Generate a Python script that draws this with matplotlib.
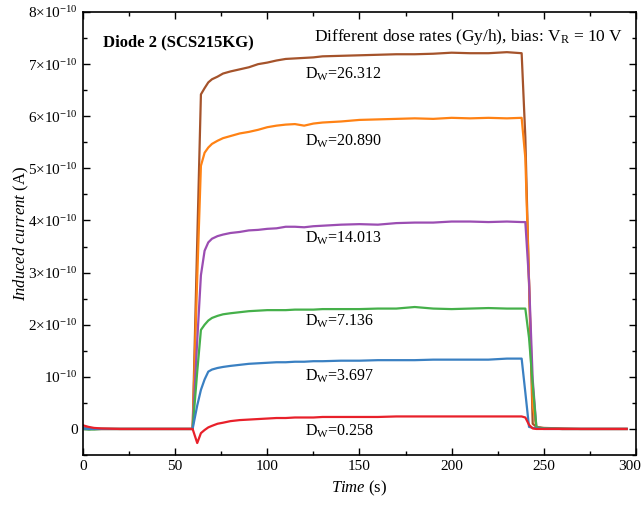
import matplotlib
matplotlib.use('Agg')
import matplotlib.pyplot as plt
import matplotlib.transforms as mtransforms
import numpy as np

plt.rcParams['font.family'] = ['Liberation Serif', 'DejaVu Serif']
plt.rcParams['mathtext.fontset'] = 'custom'
plt.rcParams['mathtext.rm'] = 'Liberation Serif'
plt.rcParams['mathtext.it'] = 'Liberation Serif:italic'
plt.rcParams['mathtext.bf'] = 'Liberation Serif:bold'

# time (s)
t = [0, 3, 6, 10, 20, 30, 40, 50, 59.5, 62, 64, 66, 68, 70, 73, 76, 80, 85, 90, 95,
     100, 105, 110, 115, 120, 125, 130, 140, 150, 160, 170, 180, 190, 200, 210, 220, 230,
     238, 240, 242, 244, 246, 250, 260, 270, 280, 290, 295]

# induced current in units of 1e-10 A
d26 = [0.02, 0.01, 0, 0, 0, 0, 0, 0, 0, 3.6, 6.42, 6.54, 6.65, 6.71, 6.76, 6.82, 6.86, 6.9, 6.94, 7.0,
       7.03, 7.07, 7.1, 7.11, 7.12, 7.13, 7.15, 7.16, 7.17, 7.18, 7.19, 7.19, 7.2, 7.22, 7.21, 7.21, 7.23,
       7.21, 5.6, 2.8, 0.1, 0.04, 0.02, 0.01, 0, 0, 0, 0]
d20 = [0.01, 0, 0, 0, 0, 0, 0, 0, 0, 2.9, 5.05, 5.3, 5.4, 5.47, 5.53, 5.58, 5.62, 5.67, 5.7, 5.74,
       5.79, 5.82, 5.84, 5.85, 5.82, 5.86, 5.88, 5.9, 5.93, 5.94, 5.95, 5.96, 5.95, 5.97, 5.96, 5.97, 5.96,
       5.97, 5.2, 2.85, 0.45, 0.03, 0.01, 0, 0, 0, 0, 0]
d14 = [0.01, 0, 0, 0, 0, 0, 0, 0, 0, 1.7, 2.95, 3.42, 3.58, 3.65, 3.7, 3.73, 3.76, 3.78, 3.81, 3.82,
       3.84, 3.85, 3.88, 3.88, 3.87, 3.89, 3.9, 3.92, 3.93, 3.92, 3.95, 3.96, 3.96, 3.98, 3.98, 3.97, 3.98,
       3.97, 3.97, 2.85, 0.95, 0.03, 0.01, 0, 0, 0, 0, 0]
d7 = [0, -0.01, -0.01, 0, 0, 0, 0, 0, 0, 1.1, 1.9, 2.0, 2.08, 2.13, 2.17, 2.2, 2.22, 2.24, 2.26, 2.27,
      2.28, 2.28, 2.28, 2.29, 2.29, 2.29, 2.3, 2.3, 2.3, 2.31, 2.31, 2.34, 2.31, 2.3, 2.31, 2.32, 2.31,
      2.31, 2.31, 1.75, 0.85, 0.03, 0.01, 0, 0, 0, 0, 0]
d3 = [0.01, 0, 0, 0, 0, 0, 0, 0, 0, 0.45, 0.75, 0.95, 1.1, 1.14, 1.17, 1.19, 1.21, 1.23, 1.25, 1.26,
      1.27, 1.28, 1.28, 1.29, 1.29, 1.3, 1.3, 1.31, 1.31, 1.32, 1.32, 1.32, 1.33, 1.33, 1.33, 1.33, 1.35,
      1.35, 0.7, 0.04, 0.02, 0.01, 0, 0, 0, 0, 0, 0]
d0 = [0.07, 0.04, 0.02, 0.01, 0, 0, 0, 0, 0, -0.27, -0.08, -0.02, 0.03, 0.06, 0.1, 0.12, 0.15, 0.17, 0.18, 0.19,
      0.2, 0.21, 0.21, 0.22, 0.22, 0.22, 0.23, 0.23, 0.23, 0.23, 0.24, 0.24, 0.24, 0.24, 0.24, 0.24, 0.24,
      0.24, 0.22, 0.08, 0.01, 0, 0, 0, 0, 0, 0, 0]

series = [d26, d20, d14, d7, d3, d0]
labels = ['26.312', '20.890', '14.013', '7.136', '3.697', '0.258']
colors = ['#a5532b', '#ff8214', '#9b4db2', '#45b04a', '#3a80c2', '#e8202a']
label_y = [6.81, 5.52, 3.65, 2.07, 1.02, -0.04]

fig = plt.figure(figsize=(6.43, 5.08), dpi=100)
ax = fig.add_axes([0.129, 0.1043, 0.860, 0.872])

for vals, c in zip(series, colors):
    ax.plot(t, np.array(vals) * 1e-10, color=c, lw=1.6)

for lab, ly in zip(labels, label_y):
    ax.text(120.5, ly * 1e-10, r'D$_{\rm W}$=' + lab, fontsize=11.5, ha='left', va='center')

ax.text(0.036, 0.932, 'Diode 2 (SCS215KG)', transform=ax.transAxes, fontsize=12,
        fontweight='bold', ha='left', va='center')
ax.text(0.977, 0.944, r'Different dose rates (Gy/h), bias: V$_{\rm R}$ = 10 V',
        transform=ax.transAxes, fontsize=12.5, ha='right', va='center')

ax.set_xlim(0, 300)
ax.set_ylim(-0.4e-10, 8e-10)
ax.set_xticks(np.arange(0, 301, 50))
ax.set_xticks(np.arange(0, 301, 25), minor=True)
yt = np.arange(0, 9) * 1e-10
ax.set_yticks(yt)
ax.set_yticks(np.arange(-0.5, 8.01, 0.5) * 1e-10, minor=True)
ylabs = ['0', r'$10^{-10}$'] + ['%d×$10^{-10}$' % k for k in range(2, 9)]
ax.set_yticklabels(ylabs)
ax.tick_params(which='both', direction='in', top=True, right=True, labelsize=11, width=1)
ax.tick_params(which='major', length=5)
ax.tick_params(which='minor', length=3)
for sp in ax.spines.values():
    sp.set_linewidth(1.2)

# pull the last x label a little inside the figure
last = ax.get_xticklabels()[-1]
last.set_transform(last.get_transform() + mtransforms.ScaledTranslation(-6 / 100, 0, fig.dpi_scale_trans))

ax.set_xlabel(r'$\it{Time}$ (s)', fontsize=12, labelpad=4)
ax.set_ylabel(r'$\it{Induced\ current}$ (A)', fontsize=12, labelpad=-2)

fig.savefig('out.png', dpi=100)
